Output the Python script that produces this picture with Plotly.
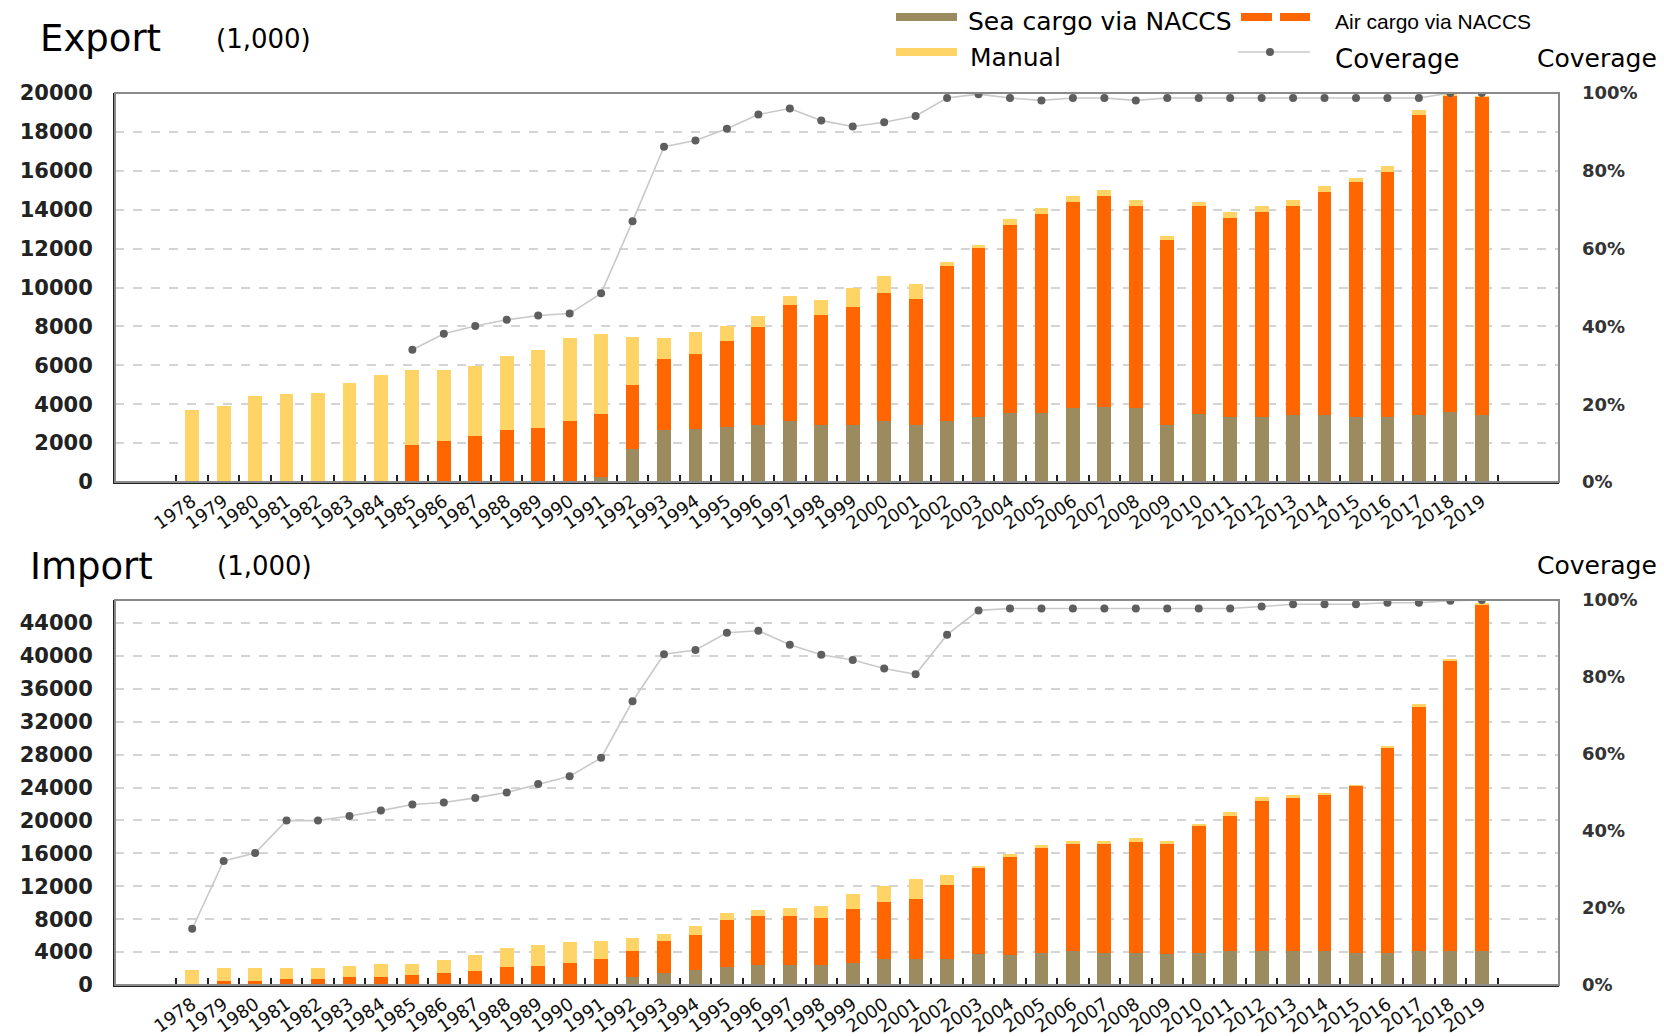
import plotly.graph_objects as go

W, H = 1664, 1036

years = ["1978", "1979", "1980", "1981", "1982", "1983", "1984", "1985", "1986", "1987",
         "1988", "1989", "1990", "1991", "1992", "1993", "1994", "1995", "1996", "1997",
         "1998", "1999", "2000", "2001", "2002", "2003", "2004", "2005", "2006", "2007",
         "2008", "2009", "2010", "2011", "2012", "2013", "2014", "2015", "2016", "2017",
         "2018", "2019"]

# ---- Export (thousands) ----
exp_sea = [0, 0, 0, 0, 0, 0, 0, 0, 0, 0,
           0, 0, 0, 260, 1720, 2660, 2750, 2840, 2920, 3130,
           2920, 2920, 3130, 2920, 3130, 3350, 3560, 3570, 3780, 3870,
           3780, 2920, 3490, 3350, 3350, 3440, 3440, 3320, 3320, 3440,
           3610, 3440]
exp_air = [0, 0, 0, 0, 0, 0, 0, 1900, 2130, 2350,
           2660, 2800, 3130, 3260, 3260, 3660, 3850, 4410, 5070, 5970,
           5670, 6070, 6610, 6500, 7950, 8730, 9670, 10210, 10620, 10860,
           10400, 9500, 10690, 10220, 10520, 10740, 11470, 12110, 12630, 15410,
           16240, 16360]
exp_manual = [3700, 3900, 4400, 4500, 4600, 5100, 5500, 3850, 3610, 3610,
              3820, 3990, 4260, 4080, 2490, 1070, 1100, 770, 550, 440,
              770, 980, 830, 770, 210, 80, 270, 310, 330, 300,
              340, 240, 220, 310, 310, 340, 330, 210, 290, 270,
              60, 20]
exp_cov = [None, None, None, None, None, None, None, 34.0, 38.1, 40.1,
           41.7, 42.8, 43.3, 48.5, 67.0, 86.2, 87.8, 90.8, 94.5, 96.0,
           92.9, 91.4, 92.5, 94.1, 98.7, 99.7, 98.7, 98.1, 98.7, 98.7,
           98.1, 98.7, 98.7, 98.7, 98.7, 98.7, 98.7, 98.7, 98.7, 98.7,
           100.0, 100.0]

# ---- Import (thousands) ----
imp_sea = [0, 0, 0, 0, 0, 0, 0, 0, 0, 0,
           0, 0, 0, 0, 940, 1470, 1840, 2160, 2450, 2450,
           2450, 2650, 3180, 3180, 3180, 3710, 3590, 3880, 4120, 3880,
           3880, 3710, 3880, 4120, 4120, 4120, 4120, 3880, 3880, 4120,
           4120, 4120]
imp_air = [100, 530, 450, 690, 690, 940, 940, 1180, 1430, 1760,
           2160, 2370, 2650, 3180, 3180, 3920, 4280, 5720, 5920, 5920,
           5670, 6600, 6870, 7240, 8990, 10570, 11990, 12720, 13010, 13250,
           13540, 13420, 15490, 16380, 18280, 18580, 19030, 20320, 25020, 29780,
           35280, 42080]
imp_manual = [1740, 1510, 1590, 1350, 1350, 1350, 1630, 1390, 1550, 1910,
              2330, 2530, 2530, 2210, 1550, 810, 1060, 820, 730, 1020,
              1470, 1760, 1930, 2440, 1220, 210, 320, 450, 410, 410,
              400, 410, 80, 500, 500, 450, 150, 100, 200, 200,
              200, 150]
imp_cov = [14.6, 32.2, 34.3, 42.7, 42.7, 43.9, 45.3, 46.9, 47.4, 48.6,
           50.0, 52.2, 54.2, 59.0, 73.7, 85.9, 87.0, 91.5, 92.0, 88.4,
           85.8, 84.4, 82.2, 80.7, 91.0, 97.3, 97.8, 97.8, 97.8, 97.8,
           97.8, 97.8, 97.8, 97.8, 98.3, 98.9, 98.9, 98.9, 99.3, 99.3,
           99.8, 100.0]

exp_ticks = [0, 2000, 4000, 6000, 8000, 10000, 12000, 14000, 16000, 18000, 20000]
imp_ticks = [0, 4000, 8000, 12000, 16000, 20000, 24000, 28000, 32000, 36000, 40000, 44000]
pct_ticks = [0, 20, 40, 60, 80, 100]
pct_text = ["0%", "20%", "40%", "60%", "80%", "100%"]

C_SEA = "#9c8b5f"
C_AIR = "#ff6600"
C_MAN = "#ffd466"
C_LINE = "#c9c9c9"
C_DOT = "#5e5e5e"


def px(x):
    return x / W


def py(y):
    return 1 - y / H


fig = go.Figure()

for xa, ya, ya2, sea, air, man, cov in [
    ("x", "y", "y2", exp_sea, exp_air, exp_manual, exp_cov),
    ("x2", "y3", "y4", imp_sea, imp_air, imp_manual, imp_cov),
]:
    fig.add_trace(go.Bar(x=years, y=sea, marker=dict(color=C_SEA, line_width=0),
                         xaxis=xa, yaxis=ya, name="Sea cargo via NACCS", showlegend=False))
    fig.add_trace(go.Bar(x=years, y=air, marker=dict(color=C_AIR, line_width=0),
                         xaxis=xa, yaxis=ya, name="Air cargo via NACCS", showlegend=False))
    fig.add_trace(go.Bar(x=years, y=man, marker=dict(color=C_MAN, line_width=0),
                         xaxis=xa, yaxis=ya, name="Manual", showlegend=False))
    fig.add_trace(go.Scatter(x=years, y=cov, mode="lines+markers",
                             line=dict(color=C_LINE, width=1.6),
                             marker=dict(color=C_DOT, size=8),
                             xaxis=xa, yaxis=ya2, name="Coverage", showlegend=False))

tick_font = dict(family="DejaVu Sans", size=21, color="#222222", weight="bold")
xtick_font = dict(family="DejaVu Sans", size=18, color="#111111")
rtick_font = dict(family="DejaVu Sans", size=18, color="#333333", weight="bold")

xdom = [px(115), px(1559)]
exp_dom = [py(482), py(93)]
imp_dom = [py(985), py(600)]

xcommon = dict(type="category", tickangle=-35, tickfont=xtick_font, automargin=False,
               showline=True, linecolor="#222222", linewidth=2,
               ticks="inside", tickson="boundaries", ticklen=7, tickwidth=2, tickcolor="#222222",
               showgrid=False, zeroline=False, domain=xdom, fixedrange=True)
ycommon = dict(showline=True, linecolor="#222222", linewidth=2, ticks="", automargin=False,
               showgrid=True, gridcolor="#d4d4d4", gridwidth=1.5, griddash="dash",
               tickformat="d", zeroline=False, tickfont=tick_font, ticklabelstandoff=16)
rcommon = dict(side="right", range=[0, 100], tickvals=pct_ticks, ticktext=pct_text,
               showgrid=False, zeroline=False, showline=False, ticks="", automargin=False,
               tickfont=rtick_font, ticklabelstandoff=22)

fig.update_layout(
    width=W, height=H,
    margin=dict(l=0, r=0, t=0, b=0),
    paper_bgcolor="white", plot_bgcolor="white",
    barmode="stack", bargap=0.56,
    showlegend=False,
    xaxis=dict(anchor="y", **xcommon),
    yaxis=dict(domain=exp_dom, range=[0, 20000], tickvals=exp_ticks, anchor="x", **ycommon),
    yaxis2=dict(overlaying="y", anchor="x", **rcommon),
    xaxis2=dict(anchor="y3", **xcommon),
    yaxis3=dict(domain=imp_dom, range=[0, 46800], tickvals=imp_ticks, anchor="x2", **ycommon),
    yaxis4=dict(overlaying="y3", anchor="x2", **rcommon),
)

# plot frames (top / right border)
for xr, yr in [("x domain", "y domain"), ("x2 domain", "y3 domain")]:
    fig.add_shape(type="rect", xref=xr, yref=yr, x0=0, x1=1, y0=0, y1=1,
                  line=dict(color="#8a8a8a", width=2), layer="above")


# ---- titles and labels ----
def text(x, y, s, size, family="DejaVu Sans", color="#000000", anchor="left"):
    fig.add_annotation(x=px(x), y=py(y), xref="paper", yref="paper", text=s,
                       showarrow=False, xanchor=anchor, yanchor="middle",
                       font=dict(family=family, size=size, color=color))


text(38, 39, "Export", 37)
text(214, 39, "(1,000)", 26)
text(28, 566, "Import", 37)
text(215, 566, "(1,000)", 26)
text(1535, 58, "Coverage", 25)
text(1535, 565, "Coverage", 25)

# ---- custom legend ----
fig.add_shape(type="line", xref="paper", yref="paper", x0=px(896), x1=px(957), y0=py(17), y1=py(17),
              line=dict(color=C_SEA, width=8))
text(966, 22, "Sea cargo via NACCS", 25)
fig.add_shape(type="line", xref="paper", yref="paper", x0=px(896), x1=px(957), y0=py(52), y1=py(52),
              line=dict(color=C_MAN, width=8))
text(968, 57, "Manual", 25)
fig.add_shape(type="line", xref="paper", yref="paper", x0=px(1241), x1=px(1272), y0=py(17), y1=py(17),
              line=dict(color=C_AIR, width=8))
fig.add_shape(type="line", xref="paper", yref="paper", x0=px(1280), x1=px(1310), y0=py(17), y1=py(17),
              line=dict(color=C_AIR, width=8))
text(1333, 22, "Air cargo via NACCS", 21, family="Liberation Sans")
fig.add_shape(type="line", xref="paper", yref="paper", x0=px(1238), x1=px(1310), y0=py(52), y1=py(52),
              line=dict(color=C_LINE, width=1.6))
fig.add_shape(type="circle", xref="paper", yref="paper", x0=px(1266), x1=px(1274), y0=py(56), y1=py(48),
              line=dict(width=0), fillcolor=C_DOT)
text(1333, 59, "Coverage", 26)

fig.write_html("out.html", config={"displayModeBar": False},
               post_script="document.body.style.margin='0';document.body.style.overflow='hidden';")
